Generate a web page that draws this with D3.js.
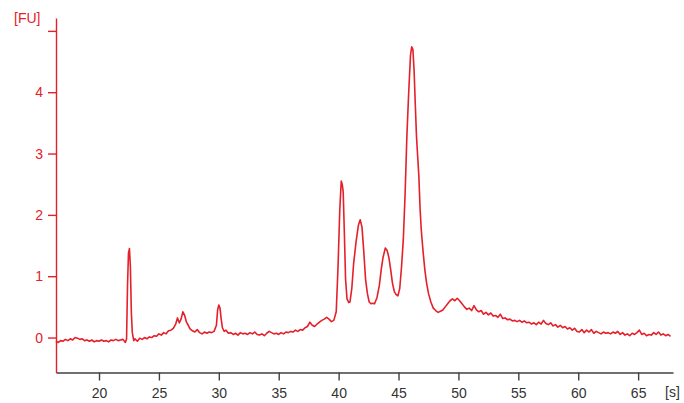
<!DOCTYPE html>
<html>
<head>
<meta charset="utf-8">
<script src="https://cdn.jsdelivr.net/npm/d3@7"></script>
<style>
  body { margin: 0; background: #fff; }
  svg { display: block; }
</style>
</head>
<body>
<svg></svg>
<script>
 // electropherogram trace: [time s, signal FU]
 let trace = [
  [16.4, -0.06], [16.6, -0.08], [16.8, -0.05], [17.0, -0.06], [17.2, -0.03], [17.4, -0.05], [17.6, -0.02], [17.8, -0.04],
  [18.0, 0.0], [18.2, -0.01], [18.4, -0.03], [18.6, -0.02], [18.8, -0.05], [19.0, -0.04], [19.2, -0.06], [19.4, -0.04],
  [19.6, -0.07], [19.8, -0.05], [20.0, -0.06], [20.2, -0.04], [20.4, -0.06], [20.6, -0.05], [20.8, -0.07], [21.0, -0.04],
  [21.2, -0.05], [21.4, -0.03], [21.6, -0.05], [21.8, -0.04], [22.0, -0.03], [22.2, -0.08],
  [22.3, -0.02], [22.38, 0.85], [22.46, 1.38], [22.54, 1.45], [22.62, 1.15], [22.7, 0.4], [22.78, 0.08], [22.9, -0.05],
  [23.0, -0.02], [23.2, -0.06], [23.4, -0.01], [23.6, -0.03], [23.8, 0.0], [24.0, -0.02], [24.2, 0.01], [24.4, 0.0],
  [24.6, 0.03], [24.8, 0.02], [25.0, 0.06], [25.2, 0.04], [25.4, 0.08], [25.6, 0.06], [25.8, 0.11], [26.0, 0.12],
  [26.2, 0.15], [26.4, 0.22], [26.55, 0.32], [26.7, 0.24], [26.85, 0.3], [27.0, 0.42], [27.15, 0.36], [27.3, 0.25],
  [27.45, 0.2], [27.6, 0.14], [27.8, 0.11], [28.0, 0.09], [28.2, 0.13], [28.4, 0.08], [28.6, 0.06], [28.8, 0.09],
  [29.0, 0.07], [29.2, 0.09], [29.4, 0.08], [29.6, 0.1], [29.8, 0.2], [29.9, 0.45], [30.0, 0.53], [30.1, 0.48],
  [30.2, 0.3], [30.3, 0.16], [30.45, 0.1], [30.6, 0.12], [30.8, 0.07], [31.0, 0.08], [31.2, 0.05], [31.4, 0.07],
  [31.6, 0.04], [31.8, 0.08], [32.0, 0.06], [32.2, 0.07], [32.4, 0.05], [32.6, 0.08], [32.8, 0.06], [33.0, 0.09],
  [33.2, 0.05], [33.4, 0.04], [33.6, 0.06], [33.8, 0.03], [34.0, 0.07], [34.2, 0.1], [34.4, 0.08], [34.6, 0.06],
  [34.8, 0.07], [35.0, 0.05], [35.2, 0.08], [35.4, 0.06], [35.6, 0.09], [35.8, 0.08], [36.0, 0.1], [36.2, 0.09],
  [36.4, 0.12], [36.6, 0.1], [36.8, 0.13], [37.0, 0.12], [37.2, 0.16], [37.4, 0.18], [37.6, 0.25], [37.8, 0.2],
  [38.0, 0.18], [38.2, 0.22], [38.4, 0.25], [38.6, 0.28], [38.8, 0.3], [39.0, 0.33], [39.2, 0.3], [39.4, 0.26],
  [39.6, 0.28], [39.8, 0.42], [39.95, 1.15], [40.1, 2.1], [40.22, 2.55], [40.3, 2.5], [40.38, 2.38], [40.48, 1.7],
  [40.58, 0.95], [40.7, 0.63], [40.85, 0.57], [40.95, 0.58], [41.1, 0.8], [41.25, 1.2], [41.45, 1.55], [41.65, 1.83],
  [41.8, 1.92], [41.95, 1.8], [42.1, 1.4], [42.25, 0.95], [42.4, 0.72], [42.55, 0.58], [42.7, 0.55], [42.85, 0.56],
  [43.0, 0.55], [43.2, 0.65], [43.4, 0.85], [43.55, 1.1], [43.7, 1.3], [43.9, 1.46], [44.05, 1.42], [44.2, 1.3],
  [44.35, 1.1], [44.5, 0.88], [44.65, 0.75], [44.8, 0.7], [44.95, 0.68], [45.1, 0.8], [45.25, 1.15], [45.4, 1.6],
  [45.55, 2.35], [45.7, 3.3], [45.85, 4.0], [46.0, 4.6], [46.1, 4.74], [46.2, 4.7], [46.3, 4.35], [46.4, 3.8],
  [46.5, 3.28], [46.6, 2.95], [46.7, 2.62], [46.8, 2.1], [46.9, 1.75], [47.05, 1.4], [47.2, 1.1], [47.35, 0.88],
  [47.5, 0.72], [47.7, 0.58], [47.9, 0.48], [48.1, 0.44], [48.3, 0.41], [48.5, 0.43], [48.7, 0.45], [48.9, 0.5],
  [49.1, 0.55], [49.3, 0.6], [49.5, 0.63], [49.7, 0.6], [49.9, 0.64], [50.1, 0.6], [50.3, 0.55], [50.5, 0.5],
  [50.7, 0.46], [50.9, 0.48], [51.1, 0.44], [51.3, 0.52], [51.5, 0.45], [51.7, 0.42], [51.9, 0.44], [52.1, 0.38],
  [52.3, 0.41], [52.5, 0.37], [52.7, 0.4], [52.9, 0.35], [53.1, 0.36], [53.3, 0.33], [53.5, 0.38], [53.7, 0.31],
  [53.9, 0.32], [54.1, 0.29], [54.3, 0.3], [54.5, 0.27], [54.7, 0.28], [54.9, 0.26], [55.1, 0.28], [55.3, 0.25],
  [55.5, 0.27], [55.7, 0.24], [55.9, 0.25], [56.1, 0.22], [56.3, 0.24], [56.5, 0.21], [56.7, 0.25], [56.9, 0.22],
  [57.1, 0.28], [57.3, 0.23], [57.5, 0.21], [57.7, 0.24], [57.9, 0.19], [58.1, 0.21], [58.3, 0.17], [58.5, 0.2],
  [58.7, 0.16], [58.9, 0.18], [59.1, 0.14], [59.3, 0.16], [59.5, 0.12], [59.7, 0.15], [59.9, 0.1], [60.1, 0.09],
  [60.3, 0.13], [60.5, 0.08], [60.7, 0.12], [60.9, 0.09], [61.1, 0.13], [61.3, 0.07], [61.5, 0.1], [61.7, 0.08],
  [61.9, 0.06], [62.1, 0.09], [62.3, 0.07], [62.5, 0.08], [62.7, 0.06], [62.9, 0.09], [63.1, 0.07], [63.3, 0.1],
  [63.5, 0.05], [63.7, 0.08], [63.9, 0.04], [64.1, 0.06], [64.3, 0.03], [64.5, 0.07], [64.7, 0.05], [64.9, 0.08],
  [65.1, 0.12], [65.3, 0.05], [65.5, 0.07], [65.7, 0.03], [65.9, 0.05], [66.1, 0.04], [66.3, 0.08], [66.5, 0.05],
  [66.7, 0.09], [66.9, 0.04], [67.1, 0.06], [67.3, 0.03], [67.5, 0.05], [67.7, 0.02]
 ];

 let xTicks = [20, 25, 30, 35, 40, 45, 50, 55, 60, 65];
 let yTicks = [0, 1, 2, 3, 4, 5];
 let yTickLabels = ["0", "1", "2", "3", "4", ""];
 let xDomain = [16.41, 67.91], yDomain = [-0.57, 5.21];

 let svgWidth = 684, svgHeight = 403;
 let plotLeft = 56, plotRight = 673, plotTop = 18, plotBottom = 372.5;
 let red = "#e4202a";
 let font = "'Liberation Sans', Arial, sans-serif";

 let svg = d3.select("svg")
    .attr("width", svgWidth)
    .attr("height", svgHeight);

 let xScale = d3.scaleLinear().domain(xDomain).range([plotLeft, plotRight]);
 let yScale = d3.scaleLinear().domain(yDomain).range([plotBottom, plotTop]);

 // x axis (dark grey)
 let xAxis = svg.append("g")
    .attr("transform", "translate(0," + plotBottom + ")")
    .call(d3.axisBottom(xScale).tickValues(xTicks).tickSize(8).tickSizeOuter(0).tickPadding(8));
 xAxis.selectAll("path, line").attr("stroke", "#404040").attr("stroke-width", 1.4);
 xAxis.selectAll("text")
    .attr("fill", "#333")
    .style("font-family", font)
    .style("font-size", "14px");

 // y axis (red)
 let yAxis = svg.append("g")
    .attr("transform", "translate(" + plotLeft + ",0)")
    .call(d3.axisLeft(yScale).tickValues(yTicks).tickFormat((d, i) => yTickLabels[i]).tickSize(8).tickSizeOuter(0).tickPadding(5));
 yAxis.selectAll("path, line").attr("stroke", red).attr("stroke-width", 1.4);
 yAxis.selectAll("text")
    .attr("fill", red)
    .style("font-family", font)
    .style("font-size", "14px");

 svg.append("text")
    .attr("x", 14).attr("y", 23)
    .attr("fill", red)
    .style("font-family", font)
    .style("font-size", "14px")
    .text("[FU]");

 svg.append("text")
    .attr("x", 665).attr("y", 397)
    .attr("fill", "#333")
    .style("font-family", font)
    .style("font-size", "14px")
    .text("[s]");

 let line = d3.line()
    .x(d => xScale(d[0]))
    .y(d => yScale(d[1]));

 svg.append("path")
    .datum(trace)
    .attr("fill", "none")
    .attr("stroke", red)
    .attr("stroke-width", 1.6)
    .attr("stroke-linejoin", "round")
    .attr("d", line);
</script>
</body>
</html>
